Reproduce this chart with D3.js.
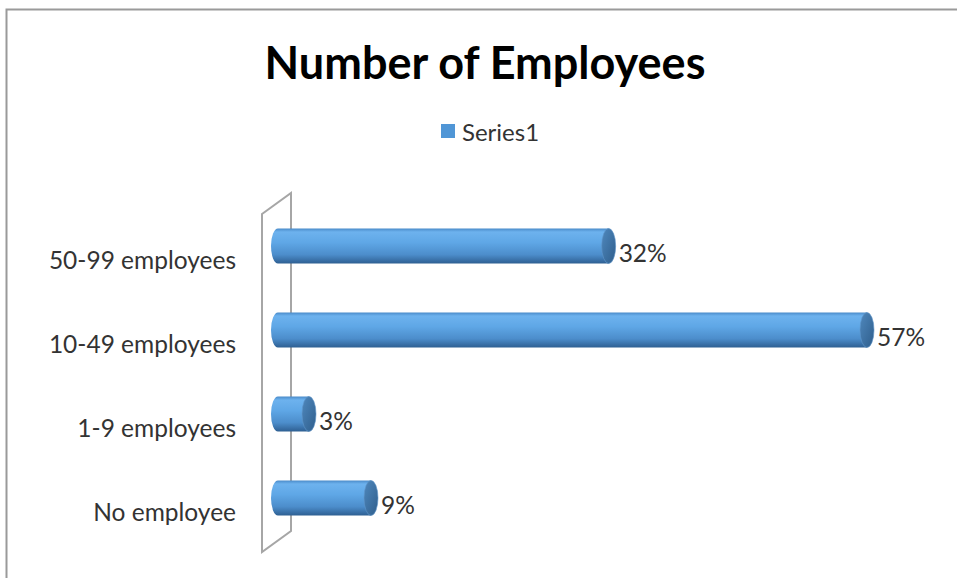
<!DOCTYPE html>
<html>
<head>
<meta charset="utf-8">
<script src="https://cdn.jsdelivr.net/npm/d3@7"></script>
<style>
  html, body { margin: 0; padding: 0; background: #fff; }
  svg { display: block; font-family: Lato, "Open Sans", sans-serif; }
</style>
</head>
<body>
<svg id="chart" width="957" height="578"></svg>
<script>
// Chart data
const categories = ["No employee", "1-9 employees", "10-49 employees", "50-99 employees"];
const values = [0.09, 0.03, 0.57, 0.32];
const seriesName = "Series1";
const chartTitle = "Number of Employees";

const svg = d3.select("#chart");
const W = 957, H = 578;

// Outer chart frame (runs off the right and bottom edges)
svg.append("rect")
  .attr("x", 6.5).attr("y", 9.5)
  .attr("width", W + 20).attr("height", H + 20)
  .attr("fill", "none").attr("stroke", "#9a9a9a").attr("stroke-width", 2);

// Scales
const x = d3.scaleLinear().domain([0, 0.6]).range([278, 898]);
const y = d3.scaleBand()
  .domain(categories.slice().reverse())
  .range([204, 540])
  .paddingInner(0.583)
  .paddingOuter(0.2915);

// Gradients for the cylinder bars
const defs = svg.append("defs");
const body = defs.append("linearGradient").attr("id", "barBody")
  .attr("x1", 0).attr("y1", 0).attr("x2", 0).attr("y2", 1);
[["0%", "#4a8bc9"], ["10%", "#6db2ee"], ["40%", "#5fa7e6"], ["75%", "#4c8dcb"], ["100%", "#2e5f92"]]
  .forEach(([o, c]) => body.append("stop").attr("offset", o).attr("stop-color", c));
const cap = defs.append("linearGradient").attr("id", "barCap")
  .attr("x1", 0).attr("y1", 0).attr("x2", 1).attr("y2", 1);
[["0%", "#4f88bd"], ["100%", "#2f5e8c"]]
  .forEach(([o, c]) => cap.append("stop").attr("offset", o).attr("stop-color", c));

// Side wall of the 3D plot area
const depthX = 29, depthY = 21;
const wallFrontX = x(0) - 16;
const wallTop = y.range()[0] + 10, wallBottom = y.range()[1] + 12;
svg.append("path")
  .attr("d", `M${wallFrontX},${wallTop} L${wallFrontX + depthX},${wallTop - depthY}
              L${wallFrontX + depthX},${wallBottom - depthY} L${wallFrontX},${wallBottom} Z`)
  .attr("fill", "none").attr("stroke", "#a6a6a6").attr("stroke-width", 2);

// Cylinder bars
const rx = 7;
const data = categories.map((c, i) => ({ cat: c, v: values[i] }));
const bars = svg.append("g").selectAll("g").data(data).join("g");
bars.each(function (d) {
  const g = d3.select(this);
  const x0 = x(0), x1 = x(d.v);
  const top = y(d.cat), h = y.bandwidth(), ry = h / 2, cy = top + ry;
  // body with rounded left end
  g.append("path")
    .attr("d", `M${x1},${top} L${x0},${top} A${rx},${ry} 0 0 0 ${x0},${top + h} L${x1},${top + h} Z`)
    .attr("fill", "url(#barBody)");
  // right end cap
  g.append("ellipse")
    .attr("cx", x1).attr("cy", cy).attr("rx", rx).attr("ry", ry)
    .attr("fill", "url(#barCap)")
    .attr("stroke", "#5f96c9").attr("stroke-width", 0.6);
  // value label
  g.append("text")
    .attr("x", x1 + rx + 3).attr("y", cy + 6)
    .attr("dominant-baseline", "central")
    .attr("font-size", 24.5).attr("fill", "#333")
    .text(d3.format(".0%")(d.v));
});

// Category labels
svg.append("g").selectAll("text").data(categories).join("text")
  .attr("x", 236)
  .attr("y", d => y(d) + y.bandwidth() / 2 + 13)
  .attr("text-anchor", "end")
  .attr("dominant-baseline", "central")
  .attr("font-size", 24.5).attr("fill", "#333")
  .text(d => d);

// Title
svg.append("text")
  .attr("x", 485).attr("y", 62)
  .attr("text-anchor", "middle").attr("dominant-baseline", "central")
  .attr("font-size", 45).attr("font-weight", "bold").attr("fill", "#000")
  .text(chartTitle);

// Legend
const legend = svg.append("g").attr("transform", "translate(441,131)");
legend.append("rect").attr("x", 0).attr("y", -7).attr("width", 14).attr("height", 14)
  .attr("fill", "#5096d6");
legend.append("text").attr("x", 21).attr("y", 0)
  .attr("dominant-baseline", "central")
  .attr("font-size", 24).attr("fill", "#333")
  .text(seriesName);
</script>
</body>
</html>
